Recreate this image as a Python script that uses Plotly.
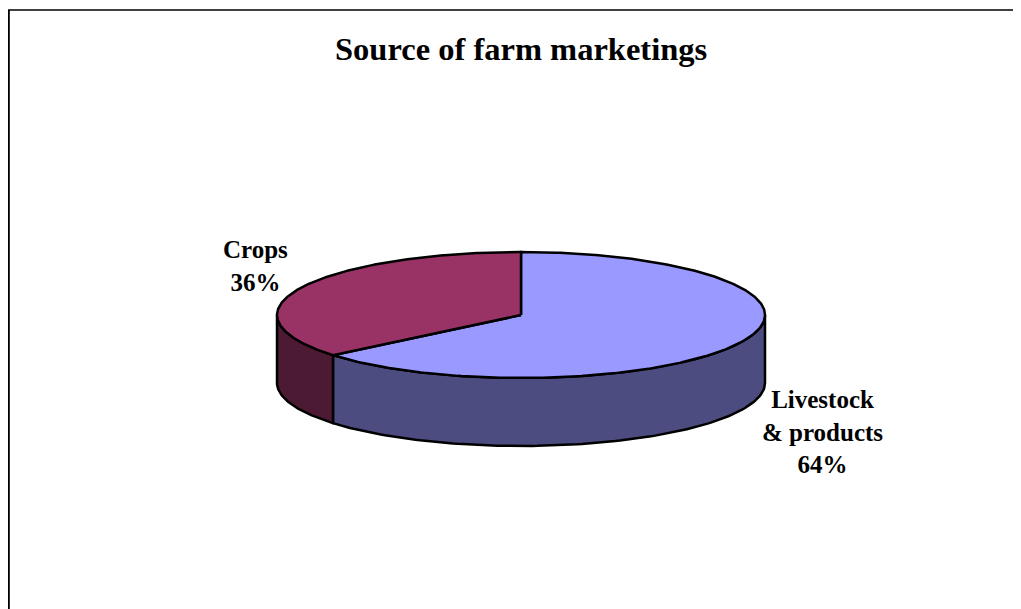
import numpy as np
import plotly.graph_objects as go

# ---- data ----
title = "Source of farm marketings"
categories = ["Livestock<br>& products", "Crops"]
values = [64, 36]
top_colors = ["#9999FF", "#993366"]
side_colors = ["#4C4C80", "#4C1A33"]

# ---- geometry (style) ----
W, H = 1021, 609
OFF = 8  # page body margin
cx, cy = 521, 315
rx, ry = 244, 63
depth = 68
start_deg = 90.0  # 12 o'clock, slices go clockwise

def pt(t_deg, yoff=0.0):
    t = np.radians(t_deg)
    return cx + rx * np.cos(t), cy - ry * np.sin(t) + yoff

total = float(sum(values))
spans = []
a = start_deg
for v in values:
    b = a - 360.0 * v / total
    spans.append((b, a))
    a = b

fig = go.Figure()

# side faces (visible front half: angles 180..360)
for (b, a), col in zip(spans, side_colors):
    lo, hi = b % 360, (b % 360) + (a - b)
    for shift in (-360, 0, 360):
        s0, s1 = max(lo + shift, 180), min(hi + shift, 360)
        if s1 > s0:
            ts = np.linspace(s0, s1, 120)
            xs_top, ys_top = pt(ts)
            xs_bot, ys_bot = pt(ts[::-1], depth)
            xs = np.concatenate([xs_top, xs_bot, [xs_top[0]]])
            ys = np.concatenate([ys_top, ys_bot, [ys_top[0]]])
            fig.add_trace(go.Scatter(x=xs, y=ys, mode="lines", fill="toself",
                                     fillcolor=col, line=dict(color="black", width=2.5),
                                     hoverinfo="skip", showlegend=False))

# top faces
for (b, a), col in zip(spans, top_colors):
    ts = np.linspace(b, a, 300)
    xs, ys = pt(ts)
    xs = np.concatenate([[cx], xs, [cx]])
    ys = np.concatenate([[cy], ys, [cy]])
    fig.add_trace(go.Scatter(x=xs, y=ys, mode="lines", fill="toself",
                             fillcolor=col, line=dict(color="black", width=2.5),
                             hoverinfo="skip", showlegend=False))

# labels
label_pos = [(822, 432), (255, 266)]
for cat, v, (lx, ly) in zip(categories, values, label_pos):
    pct = round(100 * v / total)
    fig.add_annotation(x=lx, y=ly, text=f"<b>{cat}<br>{pct}%</b>", showarrow=False,
                       font=dict(family="Liberation Serif", size=25, color="black"),
                       align="center", xanchor="center", yanchor="middle")

fig.add_annotation(x=521, y=49, text=f"<b>{title}</b>", showarrow=False,
                   font=dict(family="Liberation Serif", size=32.5, color="black"),
                   xanchor="center", yanchor="middle")

# chart border (left and top edges visible)
fig.add_shape(type="line", x0=8.9, y0=10, x1=8.9, y1=H + 30,
              line=dict(color="black", width=1.8), layer="above")
fig.add_shape(type="line", x0=8, y0=10, x1=W + 30, y1=10,
              line=dict(color="black", width=1.5), layer="above")

fig.update_layout(
    width=W - OFF, height=H - OFF,
    margin=dict(l=0, r=0, t=0, b=0),
    paper_bgcolor="white", plot_bgcolor="white",
    xaxis=dict(range=[OFF, W], visible=False, fixedrange=True),
    yaxis=dict(range=[H, OFF], visible=False, fixedrange=True),
    showlegend=False,
)

fig.write_html("out.html")
